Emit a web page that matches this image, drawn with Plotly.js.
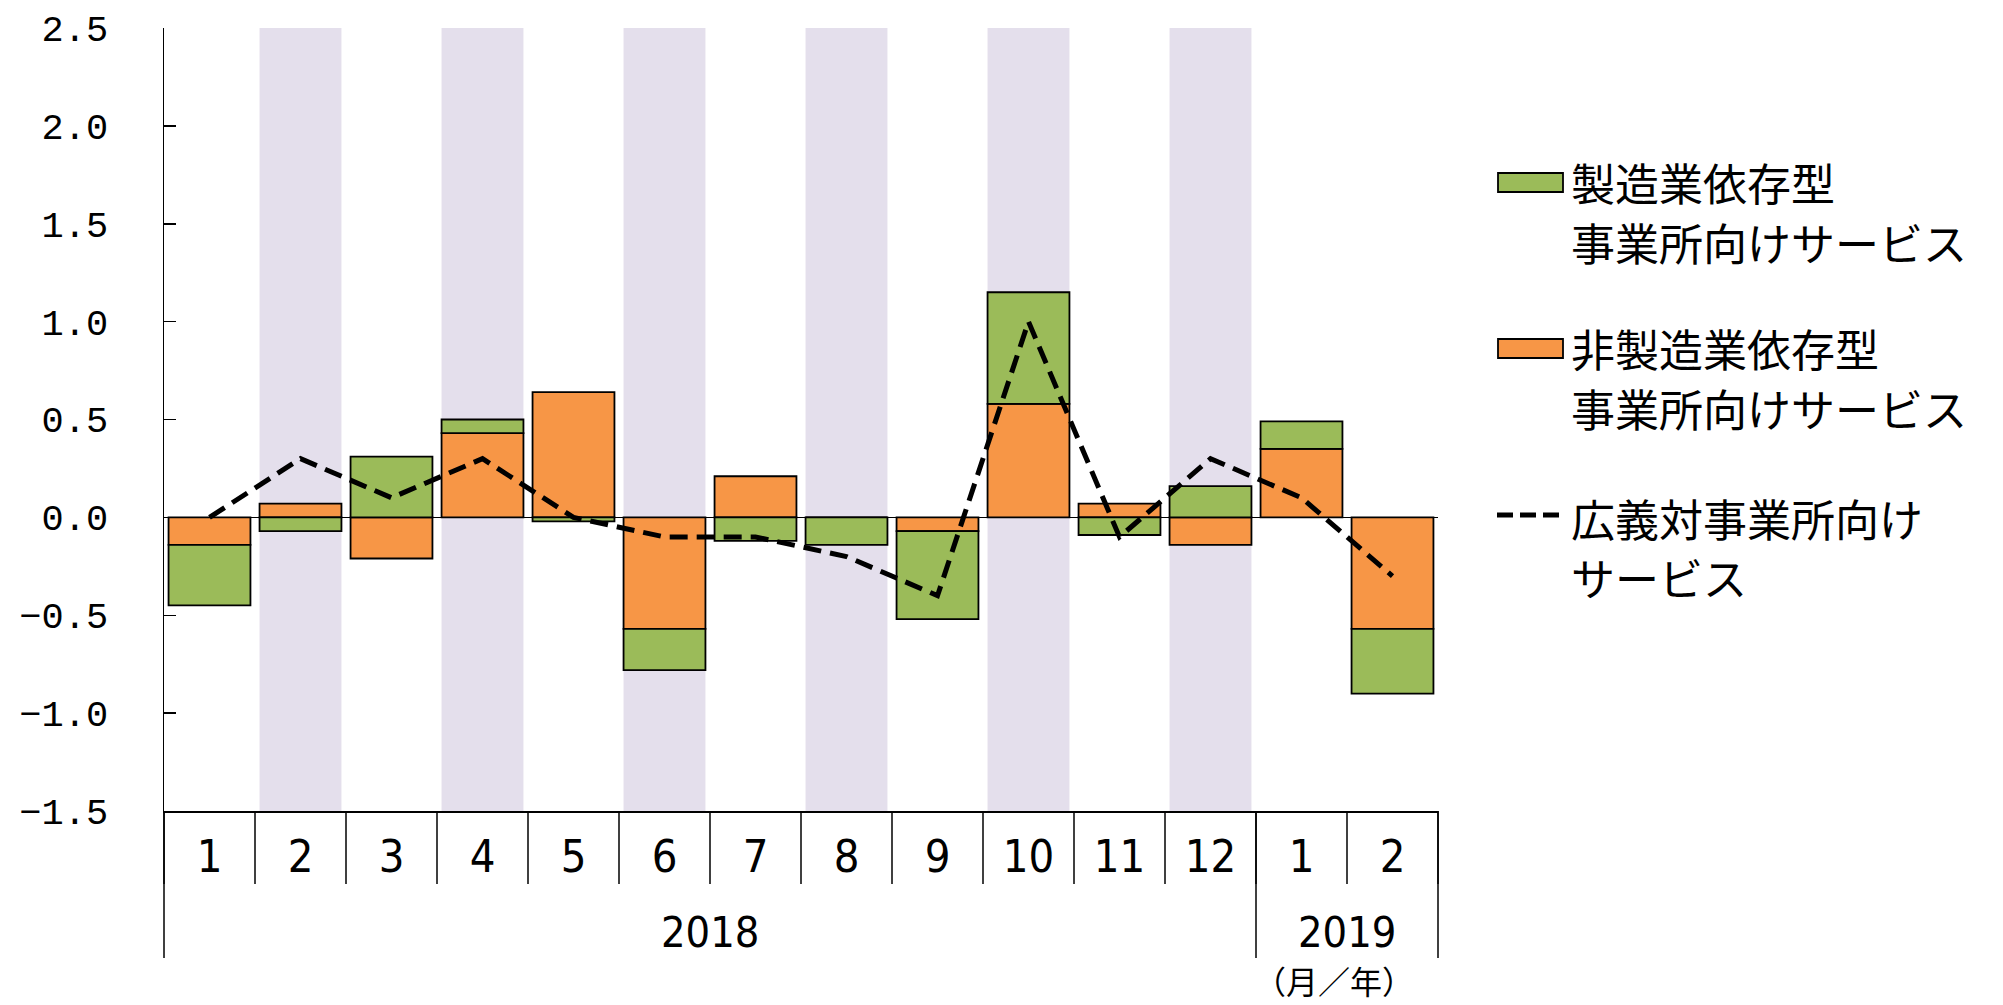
<!DOCTYPE html>
<html>
<head>
<meta charset="utf-8">
<script src="https://cdn.plot.ly/plotly-3.0.1.min.js"></script>
<style>
  html, body { margin: 0; padding: 0; background: #ffffff; }
  #chart { width: 2003px; height: 1005px; }
</style>
</head>
<body>
<div id="chart"></div>
<script>
// ---------------- data ----------------
const years  = ["2018","2018","2018","2018","2018","2018","2018","2018","2018","2018","2018","2018","2019","2019"];
const months = ["1","2","3","4","5","6","7","8","9","10","11","12","1","2"];

// 非製造業依存型 事業所向けサービス (orange)
const nonManufDependent = [-0.14, 0.07, -0.21, 0.43, 0.64, -0.57, 0.21, 0.00, -0.07, 0.58, 0.07, -0.14, 0.35, -0.57];
// 製造業依存型 事業所向けサービス (green)
const manufDependent    = [-0.31, -0.07, 0.31, 0.07, -0.02, -0.21, -0.12, -0.14, -0.45, 0.57, -0.09, 0.16, 0.14, -0.33];
// 広義対事業所向けサービス (dashed line)
const broadServices     = [0.0, 0.3, 0.1, 0.3, 0.0, -0.1, -0.1, -0.2, -0.4, 1.0, -0.1, 0.3, 0.1, -0.3];

// shaded columns (months of 2018 with a band)
const shadedPeriods = ["2018/2","2018/4","2018/6","2018/8","2018/10","2018/12"];

const yTickVals = [-1.5, -1.0, -0.5, 0.0, 0.5, 1.0, 1.5, 2.0, 2.5];

const legendManuf    = ["製造業依存型", "事業所向けサービス"];
const legendNonManuf = ["非製造業依存型", "事業所向けサービス"];
const legendBroad    = ["広義対事業所向け", "サービス"];
const unitLabel = "（月／年）";

// ---------------- helpers ----------------
const periods = years.map((y, i) => y + "/" + months[i]);
const N = periods.length;

const W = 2003, H = 1005, L = 164, R = 565, T = 28, B = 194;
const plotW = W - L - R, plotH = H - T - B;
const pxX = p => (p - L) / plotW;          // page px -> paper x
const pxY = p => (H - B - p) / plotH;      // page px -> paper y
const catToPaper = c => (c + 0.5) / N;     // category coordinate -> paper x

const GREEN = "#9BBB59", ORANGE = "#F79646", SHADE = "#E4DFEC";
const CJK = "Noto Sans CJK JP, Noto Sans, sans-serif";
const NARROW = "Liberation Sans Narrow, DejaVu Sans Condensed, Liberation Sans, Arial, sans-serif";

// ---------------- traces ----------------
const traces = [
  {
    type: "bar", name: legendNonManuf.join(""),
    x: periods, y: nonManufDependent,
    marker: { color: ORANGE, line: { color: "#000000", width: 1.8 } },
    hoverinfo: "x+y"
  },
  {
    type: "bar", name: legendManuf.join(""),
    x: periods, y: manufDependent,
    marker: { color: GREEN, line: { color: "#000000", width: 1.8 } },
    hoverinfo: "x+y"
  },
  {
    type: "scatter", mode: "lines", name: legendBroad.join(""),
    x: periods, y: broadServices,
    line: { color: "#000000", width: 5, dash: "18px,9px" },
    hoverinfo: "x+y"
  }
];

// ---------------- shapes ----------------
const shapes = [];
// shaded bands
periods.forEach((p, i) => {
  if (shadedPeriods.includes(p)) {
    shapes.push({
      type: "rect", xref: "paper", yref: "paper", layer: "below",
      x0: catToPaper(i - 0.45), x1: catToPaper(i + 0.45), y0: 0, y1: 1,
      fillcolor: SHADE, line: { width: 0 }
    });
  }
});
// month boundary ticks
for (let k = 0; k <= N; k++) {
  shapes.push({
    type: "line", xref: "paper", yref: "paper",
    x0: catToPaper(k - 0.5), x1: catToPaper(k - 0.5), y0: 0, y1: pxY(884),
    line: { color: "#000000", width: 1.5 }
  });
}
// year dividers
const dividerCats = [-0.5];
for (let i = 1; i < N; i++) if (years[i] !== years[i - 1]) dividerCats.push(i - 0.5);
dividerCats.push(N - 0.5);
dividerCats.forEach(c => {
  shapes.push({
    type: "line", xref: "paper", yref: "paper",
    x0: catToPaper(c), x1: catToPaper(c), y0: 0, y1: pxY(958),
    line: { color: "#000000", width: 1.5 }
  });
});
// legend swatches
shapes.push({ type: "rect", xref: "paper", yref: "paper",
  x0: pxX(1498), x1: pxX(1563), y0: pxY(192), y1: pxY(173),
  fillcolor: GREEN, line: { color: "#000000", width: 1.8 } });
shapes.push({ type: "rect", xref: "paper", yref: "paper",
  x0: pxX(1498), x1: pxX(1563), y0: pxY(358), y1: pxY(339),
  fillcolor: ORANGE, line: { color: "#000000", width: 1.8 } });
shapes.push({ type: "line", xref: "paper", yref: "paper",
  x0: pxX(1497), x1: pxX(1561), y0: pxY(515), y1: pxY(515),
  line: { color: "#000000", width: 5, dash: "16px,7px" } });

// ---------------- annotations ----------------
const annotations = [];
// year labels
const yearGroups = [];
years.forEach((y, i) => {
  const g = yearGroups[yearGroups.length - 1];
  if (g && g.year === y) g.last = i; else yearGroups.push({ year: y, first: i, last: i });
});
yearGroups.forEach(g => {
  annotations.push({
    xref: "paper", yref: "paper", x: catToPaper((g.first + g.last) / 2), y: pxY(932),
    xanchor: "center", yanchor: "middle", showarrow: false, text: g.year,
    font: { family: NARROW, size: 43, color: "#000000" }
  });
});
annotations.push({
  xref: "paper", yref: "paper", x: pxX(1334), y: pxY(1005),
  xanchor: "center", yanchor: "bottom", showarrow: false, text: unitLabel,
  font: { family: CJK, size: 32, color: "#000000" }
});
// legend texts
const legendBlocks = [
  { lines: legendManuf, y: [182, 242] },
  { lines: legendNonManuf, y: [348, 408] },
  { lines: legendBroad, y: [518, 577] }
];
legendBlocks.forEach(b => {
  b.lines.forEach((t, j) => {
    annotations.push({
      xref: "paper", yref: "paper", x: pxX(1569), y: pxY(b.y[j]),
      xanchor: "left", yanchor: "middle", showarrow: false, text: t,
      font: { family: CJK, size: 44, color: "#000000" }
    });
  });
});

// ---------------- layout ----------------
const layout = {
  width: W, height: H,
  margin: { l: L, r: R, t: T, b: B, pad: 0 },
  paper_bgcolor: "#ffffff", plot_bgcolor: "rgba(0,0,0,0)",
  barmode: "relative", bargap: 0.1,
  showlegend: false,
  xaxis: {
    type: "category", categoryorder: "array", categoryarray: periods,
    range: [-0.5, N - 0.5],
    tickvals: periods, ticktext: months,
    ticks: "", showgrid: false, zeroline: false,
    showline: true, linecolor: "#000000", linewidth: 1.5,
    tickfont: { family: NARROW, size: 45, color: "#000000" },
    ticklabelstandoff: 5,
    fixedrange: true
  },
  yaxis: {
    range: [-1.5, 2.5], tickvals: yTickVals, tickformat: ".1f",
    ticks: "inside", ticklen: 12, tickwidth: 1.5, tickcolor: "#000000",
    showline: true, linecolor: "#000000", linewidth: 1.5,
    showgrid: false,
    zeroline: true, zerolinecolor: "#000000", zerolinewidth: 1.5,
    tickfont: { family: "Liberation Mono, DejaVu Sans Mono, monospace", size: 37, color: "#000000" },
    ticklabelstandoff: 47,
    fixedrange: true
  },
  shapes: shapes,
  annotations: annotations
};

Plotly.newPlot("chart", traces, layout, { displayModeBar: false, staticPlot: true });
</script>
</body>
</html>
